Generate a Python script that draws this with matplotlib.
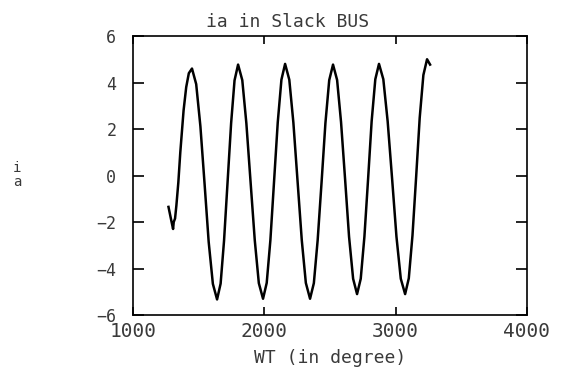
"""Ia in Slack BUS waveform, redrawn from a plotter scan."""
import matplotlib
matplotlib.use("Agg")
import matplotlib.pyplot as plt

# waveform points (degree, current)
wt = [1270, 1290, 1305, 1310, 1320, 1330, 1345, 1360, 1385, 1405, 1425,
      1449, 1481, 1513, 1545, 1576, 1608,
      1640, 1667, 1693, 1720, 1747, 1773,
      1800, 1832, 1863, 1895, 1927, 1958,
      1990, 2018, 2046, 2074, 2102, 2130,
      2158, 2190, 2221, 2253, 2285, 2316,
      2348, 2377, 2406, 2436, 2465, 2494,
      2523, 2554, 2584, 2615, 2645, 2676,
      2706, 2734, 2762, 2790, 2817, 2845,
      2873, 2906, 2939, 2973, 3006, 3039,
      3072, 3100, 3128, 3156, 3183, 3211,
      3239, 3262]
ia = [-1.35, -1.9, -2.3, -2.0, -1.85, -1.3, -0.3, 1.0, 2.8, 3.8, 4.4,
      4.6, 3.93, 2.12, -0.37, -2.85, -4.66,
      -5.33, -4.65, -2.81, -0.28, 2.25, 4.09,
      4.77, 4.10, 2.25, -0.27, -2.78, -4.63,
      -5.3, -4.62, -2.78, -0.25, 2.28, 4.12,
      4.8, 4.12, 2.28, -0.25, -2.78, -4.62,
      -5.3, -4.63, -2.78, -0.27, 2.25, 4.10,
      4.77, 4.11, 2.30, -0.17, -2.63, -4.44,
      -5.1, -4.44, -2.63, -0.15, 2.33, 4.14,
      4.8, 4.14, 2.33, -0.15, -2.63, -4.44,
      -5.1, -4.42, -2.58, -0.05, 2.48, 4.32,
      5.0, 4.77]

xticks = [1000, 2000, 3000, 4000]
yticks = [-6, -4, -2, 0, 2, 4, 6]

MONO = "DejaVu Sans Mono"
TXT = "#3a3a3a"

fig = plt.figure(figsize=(5.62, 3.81), dpi=100)
ax = fig.add_axes([0.2367, 0.1732, 0.701, 0.7323])

ax.plot(wt, ia, color="black", lw=1.8)

ax.set_xlim(1000, 4000)
ax.set_ylim(-6, 6)
ax.set_xticks(xticks)
ax.set_yticks(yticks)
ax.set_xticklabels([str(t) for t in xticks], fontfamily=MONO, fontsize=14, color=TXT)
ax.set_yticklabels([str(t).replace("-", "\u2212") for t in yticks],
                   fontfamily=MONO, fontsize=12, color=TXT)
ax.tick_params(axis="both", direction="in", length=6, width=1.2,
               top=True, right=True, labeltop=False, labelright=False)
ax.tick_params(axis="y", pad=12)
ax.tick_params(axis="x", pad=5)
ax.tick_params(axis="y", which="both", right=True, length=8)
for s in ax.spines.values():
    s.set_linewidth(1.2)

ax.set_xlabel("WT (in degree)", fontfamily=MONO, fontsize=13, color=TXT, labelpad=6)
fig.text(288 / 562, 1 - 31 / 381, "ia in Slack BUS", ha="center", va="bottom",
         fontfamily=MONO, fontsize=13, color=TXT)
fig.text(17 / 562, 1 - 175 / 381, "i\na", ha="center", va="center",
         fontfamily=MONO, fontsize=10, color=TXT, linespacing=1.0)

fig.savefig("out.png", dpi=100)
